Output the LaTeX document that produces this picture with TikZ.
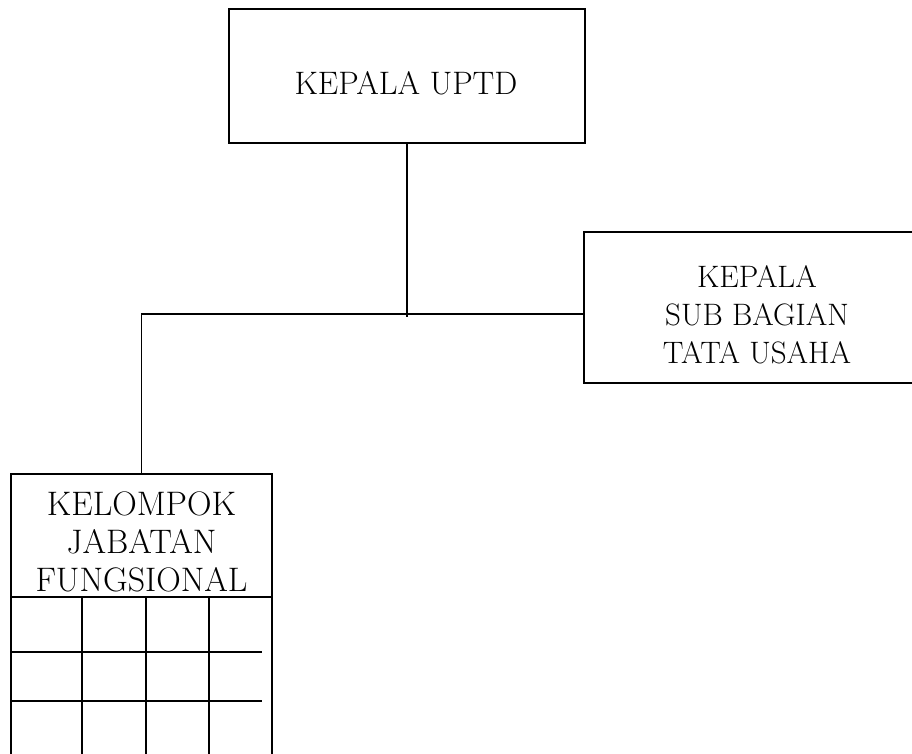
\documentclass[tikz,border=0pt]{standalone}
\usepackage{fontspec}
\setmainfont{Latin Modern Roman}
\begin{document}
\begin{tikzpicture}[x=1pt,y=1pt,
  box/.style={draw, line width=1.8pt, inner sep=0pt},
  conn/.style={line width=1.8pt},
  txt/.style={align=center, inner sep=0pt}]
\useasboundingbox (0,0) rectangle (912,-754);
\clip (0,0) rectangle (912,-754);
% boxes
\node[box, minimum width=356pt, minimum height=134pt] (uptd) at (407,-76) {};
\node[txt, font=\fontsize{32.5}{38}\selectfont, anchor=base] (uptdtext) at (406,-95) {KEPALA UPTD};
\node[box, minimum width=350pt, minimum height=151pt] (tu) at (759,-307.5) {};
\node[txt, font=\fontsize{31}{38}\selectfont, anchor=base] (tutext) at (757,-363) {KEPALA\\SUB BAGIAN\\TATA USAHA};
\node[box, minimum width=261pt, minimum height=300pt] (kjf) at (141.5,-624) {};
\node[txt, font=\fontsize{34}{38}\selectfont, anchor=base] (kjftext) at (141.5,-591) {KELOMPOK\\JABATAN\\FUNGSIONAL};
% grid inside the functional group box
\draw[conn] (11,-597) -- (272,-597);
\foreach \x in {82,146,209} \draw[conn] (\x,-597) -- (\x,-760);
\foreach \y in {652,701} \draw[conn] (11,-\y) -- (262,-\y);
% connectors
\coordinate (j) at (408,-314);
\draw[conn] (uptd.south) -- ++(0,-173);
\draw[conn] (tu.west |- j) -- (kjf.north |- j) -- (kjf.north);
\end{tikzpicture}
\end{document}
